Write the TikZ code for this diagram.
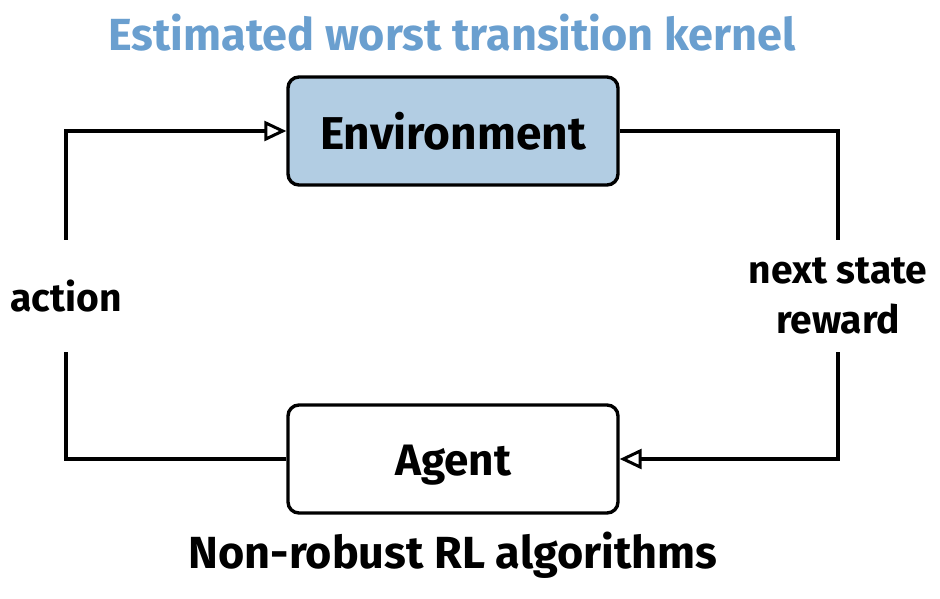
\documentclass[tikz,border=0pt]{standalone}
\usepackage{fontspec}
\setmainfont{Fira Sans}
\usetikzlibrary{arrows.meta}
\definecolor{envfill}{HTML}{B2CDE3}
\definecolor{titleblue}{HTML}{6A9FCF}
\tikzset{
  boxnode/.style={draw=black, line width=3.4pt, rounded corners=11pt, minimum width=330pt, minimum height=108pt},
  conn/.style={draw=black, line width=3.2pt},
  tip/.style={-{Triangle[open, length=22pt, width=20pt, line width=3pt]}},
  lbl/.style={font=\fontsize{39}{50}\selectfont\bfseries, align=center, minimum height=112pt, inner sep=0pt},
  captxt/.style={font=\fontsize{45}{50}\selectfont\bfseries}
}
\begin{document}
\begin{tikzpicture}[x=1pt, y=-1pt]
\useasboundingbox (0,0) rectangle (940,598);
\node[captxt, text=titleblue] (title) at (452,33) {Estimated worst transition kernel};
\node[boxnode, fill=envfill, font=\fontsize{46}{50}\selectfont\bfseries] (env) at (453,131) {Environment};
\node[boxnode, fill=white, font=\fontsize{44}{50}\selectfont\bfseries] (agent) at (453,459) {\raisebox{-6pt}[\height][\depth]{Agent}};
\node[captxt] (algo) at (453,555) {Non-robust RL algorithms};
\node[lbl] (act) at (66,296) {action};
\node[lbl] (nsr) at (838,296) {next state\\reward};
\draw[conn] (agent.west) -| (act.south);
\draw[conn, tip] (act.north) |- (env.west);
\draw[conn] (env.east) -| (nsr.north);
\draw[conn, tip] (nsr.south) |- (agent.east);
\end{tikzpicture}
\end{document}
